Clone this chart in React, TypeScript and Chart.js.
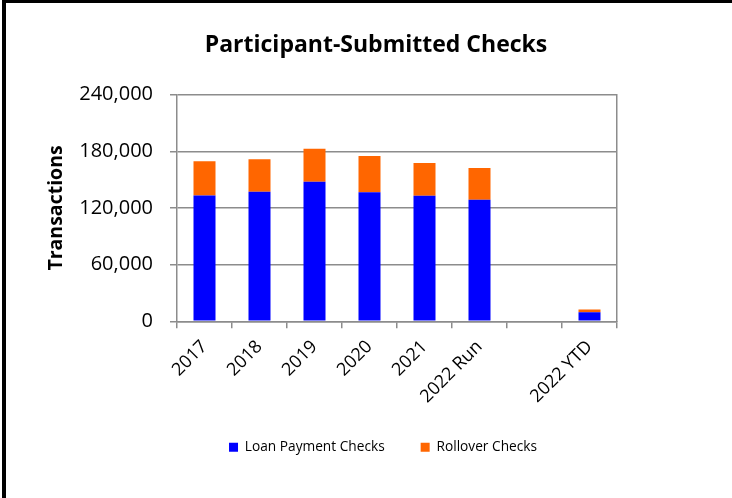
import React, { useEffect, useRef } from 'react';
import { Chart, registerables } from 'chart.js';

Chart.register(...registerables);

const categories = ['2017', '2018', '2019', '2020', '2021', '2022 Run', '', '2022 YTD'];
const loanPaymentChecks = [133300, 137200, 147800, 136500, 132900, 128700, null, 9600];
const rolloverChecks = [36200, 34400, 34800, 38600, 34800, 33700, null, 2800];
const yMin = 0;
const yMax = 240000;
const yStep = 60000;

const FONT = '"Open Sans", "DejaVu Sans", sans-serif';
const GRID = '#8c8c8c';

const frame = {
  id: 'frame',
  afterLayout(chart: any) {
    const l = chart.legend;
    if (l) {
      l.left += 7;
      l.right += 7;
    }
  },
  afterDraw(chart: any) {
    const ctx = chart.ctx;
    ctx.save();
    ctx.fillStyle = '#000';
    ctx.fillRect(2, 0, 4, 498);
    ctx.fillRect(2, 0, 730, 3);
    ctx.restore();
  },
};

export default function App() {
  const ref = useRef<HTMLCanvasElement>(null);
  useEffect(() => {
    if (!ref.current) return;
    const chart = new Chart(ref.current, {
      type: 'bar',
      data: {
        labels: categories,
        datasets: [
          {
            label: 'Loan Payment Checks',
            data: loanPaymentChecks,
            backgroundColor: '#0000ff',
            borderWidth: 0,
            barPercentage: 0.4,
            categoryPercentage: 1.0,
          },
          {
            label: 'Rollover Checks',
            data: rolloverChecks,
            backgroundColor: '#ff6600',
            borderWidth: 0,
            barPercentage: 0.4,
            categoryPercentage: 1.0,
          },
        ],
      },
      options: {
        responsive: false,
        animation: false,
        layout: { padding: { left: 20, right: 0, top: 0, bottom: 34 } },
        plugins: {
          title: {
            display: true,
            text: 'Participant-Submitted Checks',
            color: '#000',
            font: { family: FONT, size: 23, weight: 'bold' },
            padding: { top: 32, bottom: 35 },
          },
          legend: {
            position: 'bottom',
            labels: {
              color: '#000',
              font: { family: FONT, size: 13.7 },
              boxWidth: 9,
              boxHeight: 9,
              padding: 36,
            },
          },
          tooltip: { enabled: false },
        },
        scales: {
          x: {
            stacked: true,
            grid: {
              offset: true,
              drawOnChartArea: false,
              drawTicks: true,
              tickLength: 7,
              color: GRID,
              lineWidth: 1.5,
            },
            border: { display: true, color: GRID, width: 1.5 },
            ticks: {
              color: '#000',
              font: { family: FONT, size: 18 },
              minRotation: 45,
              maxRotation: 45,
              autoSkip: false,
              padding: 8,
            },
            afterFit: (s: any) => {
              s.height = 83;
            },
          },
          y: {
            stacked: true,
            min: yMin,
            max: yMax,
            grid: {
              color: GRID,
              lineWidth: 1.5,
              drawTicks: true,
              tickLength: 7,
            },
            border: { display: true, color: GRID, width: 1.5 },
            ticks: {
              stepSize: yStep,
              color: '#000',
              font: { family: FONT, size: 20 },
              padding: 17,
              callback: (v: any) => Number(v).toLocaleString('en-US'),
            },
            title: {
              display: true,
              text: 'Transactions',
              color: '#000',
              font: { family: FONT, size: 19.5, weight: 'bold' },
              padding: { top: 25, bottom: 0 },
            },
            afterFit: (s: any) => {
              s.width = 157;
            },
          },
          y2: {
            position: 'right',
            display: true,
            min: 0,
            max: 1,
            grid: { drawOnChartArea: false, drawTicks: false },
            border: { display: true, color: GRID, width: 1.5 },
            ticks: { display: false },
            afterFit: (s: any) => {
              s.width = 115;
            },
          },
        },
      },
      plugins: [frame],
    });
    return () => chart.destroy();
  }, []);
  return (
    <div style={{ position: 'fixed', left: 0, top: 0, width: 732, height: 498, background: '#fff' }}>
      <canvas ref={ref} width={732} height={498} style={{ display: 'block', width: 732, height: 498 }} />
    </div>
  );
}
